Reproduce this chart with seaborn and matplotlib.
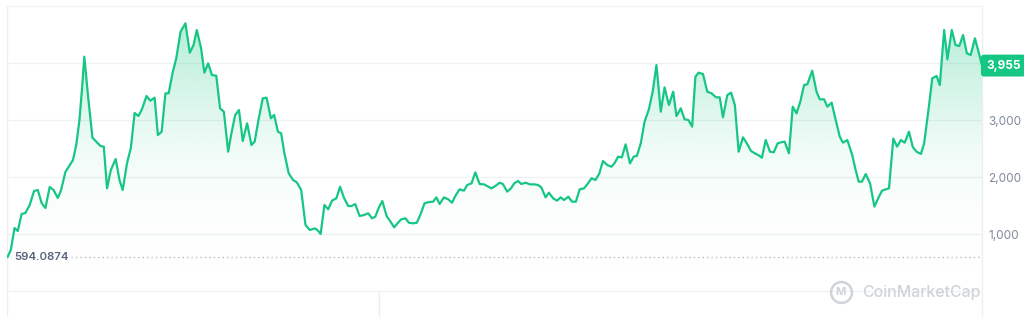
import numpy as np
import pandas as pd
import matplotlib
matplotlib.use("Agg")
import matplotlib.pyplot as plt
import seaborn as sns
from matplotlib.colors import LinearSegmentedColormap
from matplotlib.patches import PathPatch

# ---- data (days since start, price in USD) ----
days = [0, 6, 13, 19, 26, 33, 41, 49, 56, 63, 70, 78, 85, 93, 99, 107, 115, 121, 127, 133,
        138, 142, 149, 157, 164, 172, 178, 184, 191, 200, 207, 213, 221, 228, 235, 242, 248, 257, 264, 272,
        278, 285, 292, 298, 305, 312, 320, 329, 337, 344, 350, 358, 364, 371, 378, 386, 393, 400, 408, 414,
        421, 428, 435, 443, 451, 457, 464, 472, 479, 487, 493, 500, 506, 512, 520, 528, 535, 543, 551, 559,
        568, 573, 579, 586, 593, 600, 608, 615, 622, 630, 636, 643, 651, 659, 667, 674, 680, 686, 693, 701,
        707, 715, 721, 728, 736, 742, 750, 757, 764, 771, 779, 787, 793, 799, 807, 815, 822, 828, 836, 844,
        850, 858, 865, 873, 881, 895, 902, 910, 916, 924, 931, 937, 944, 950, 958, 966, 974, 981, 987, 995,
        1001, 1009, 1016, 1023, 1029, 1037, 1044, 1051, 1058, 1066, 1072, 1080, 1087, 1094, 1101, 1109, 1117, 1123, 1129, 1136,
        1143, 1151, 1158, 1164, 1171, 1178, 1186, 1193, 1200, 1208, 1215, 1223, 1231, 1237, 1245, 1252, 1259, 1266, 1272, 1278,
        1286, 1294, 1302, 1310, 1317, 1323, 1331, 1338, 1345, 1352, 1360, 1367, 1375, 1382, 1388, 1395, 1402, 1410, 1417, 1424,
        1430, 1437, 1445, 1452, 1459, 1466, 1473, 1479, 1488, 1496, 1502, 1510, 1516, 1524, 1530, 1539, 1545, 1553, 1562, 1568,
        1574, 1580, 1587, 1595, 1603, 1610, 1617, 1624, 1630, 1638, 1645, 1652, 1659, 1667, 1674, 1681, 1689, 1695, 1703, 1710,
        1718, 1724, 1732, 1738, 1746, 1753, 1760, 1767, 1774, 1781, 1789, 1798, 1802]

price = [594, 719, 1105, 1053, 1351, 1368, 1509, 1754, 1772, 1544, 1456, 1825, 1772, 1632, 1772, 2088, 2210, 2298, 2561, 3000,
         3584, 4111, 3409, 2690, 2620, 2544, 2532, 1801, 2123, 2316, 1947, 1772, 2246, 2509, 3123, 3070, 3175, 3421, 3339, 3392,
         2737, 2795, 3468, 3468, 3819, 4082, 4550, 4696, 4181, 4316, 4579, 4257, 3830, 3994, 3789, 3777, 3205, 3146, 2444, 2766,
         3088, 3175, 2632, 2942, 2561, 2620, 3000, 3380, 3392, 3030, 3088, 2795, 2766, 2415, 2064, 1947, 1906, 1772, 1158, 1070,
         1099, 1070, 1000, 1509, 1433, 1585, 1626, 1830, 1637, 1491, 1491, 1526, 1316, 1333, 1363, 1275, 1304, 1451, 1579, 1316,
         1234, 1117, 1187, 1257, 1275, 1199, 1187, 1199, 1351, 1538, 1561, 1567, 1643, 1526, 1643, 1608, 1549, 1667, 1784, 1760,
         1860, 1889, 2082, 1877, 1871, 1801, 1842, 1900, 1877, 1743, 1801, 1889, 1930, 1877, 1900, 1871, 1871, 1860, 1819, 1643,
         1725, 1626, 1585, 1643, 1596, 1655, 1567, 1567, 1784, 1801, 1871, 1977, 1947, 2053, 2281, 2210, 2181, 2251, 2357, 2345,
         2573, 2240, 2357, 2374, 2591, 2971, 3187, 3497, 3965, 3146, 3573, 3263, 3497, 3070, 3205, 3012, 3000, 2883, 3760, 3830,
         3807, 3497, 3468, 3398, 3398, 3047, 3439, 3480, 3263, 2444, 2696, 2591, 2456, 2415, 2386, 2339, 2649, 2444, 2433, 2591,
         2608, 2620, 2415, 3234, 3117, 3322, 3614, 3626, 3865, 3497, 3363, 3363, 3234, 3304, 3058, 2708, 2602, 2649, 2386, 2135,
         1918, 1918, 2053, 1889, 1480, 1626, 1760, 1784, 1801, 2673, 2532, 2649, 2602, 2795, 2526, 2444, 2404, 2591, 3175, 3731,
         3772, 3614, 4579, 4065, 4579, 4316, 4298, 4491, 4170, 4140, 4433, 4111, 3955]

grid_values = [0, 1000, 2000, 3000, 4000, 5000]
tick_labels = ["", "1,000", "2,000", "3,000", "", ""]
open_price = 594.0874
last_price_label = "3,955"

GREEN = "#16c784"
GRID = "#eff1f4"
TEXT = "#808a9d"
WM = "#cfd3da"

df = pd.DataFrame({"day": days, "price": price})

sns.set_theme(style="white")
plt.rcParams["font.family"] = ["Inter", "DejaVu Sans"]

fig = plt.figure(figsize=(10.24, 3.17), dpi=100)
ax = fig.add_axes([7 / 1024, 0.0, 975 / 1024, 1 - 6 / 317])

ymin, ymax = -456, 5000
xmin, xmax = -1, df["day"].max()

# gradient area under curve
poly = ax.fill_between(df["day"], df["price"], ymin, color="none", lw=0)
path = poly.get_paths()[0]
cmap = LinearSegmentedColormap.from_list(
    "g", [(1, 1, 1, 0.0), (22 / 255, 199 / 255, 132 / 255, 0.07), (22 / 255, 199 / 255, 132 / 255, 0.32)])
grad = np.linspace(0, 1, 256).reshape(-1, 1)
im = ax.imshow(grad, aspect="auto", cmap=cmap, origin="lower",
               extent=[xmin, xmax, 300, 4800], zorder=1, interpolation="bicubic")
clip = PathPatch(path, transform=ax.transData, facecolor="none", edgecolor="none")
ax.add_patch(clip)
im.set_clip_path(clip)

# gridlines
for v in grid_values:
    ax.axhline(v, color=GRID, lw=0.9, zorder=0)

# line
sns.lineplot(data=df, x="day", y="price", ax=ax, color=GREEN, lw=1.6, zorder=3)

# open-price dotted line + label
ax.axhline(open_price, xmin=0.066, xmax=1.0, color="#b8bec9", lw=1.0,
           linestyle=(0, (1, 2.2)), zorder=2)
ax.text(0.007, open_price, "594.0874", transform=ax.get_yaxis_transform(),
        ha="left", va="center", fontsize=8.2, color="#58667e", fontweight="semibold", zorder=4)

ax.set_xlim(xmin, xmax)
ax.set_ylim(ymin, ymax)

# right axis labels
ax.yaxis.tick_right()
ax.set_yticks(grid_values)
ax.set_yticklabels(tick_labels)
ax.tick_params(axis="y", length=0, pad=4.5, labelsize=8.5, labelcolor=TEXT)
ax.set_xticks([])
ax.set_xlabel("")
ax.set_ylabel("")

for s in ["top", "bottom"]:
    ax.spines[s].set_visible(False)
for s in ["left", "right"]:
    ax.spines[s].set_color("#eceef2")
    ax.spines[s].set_linewidth(0.9)

# faint divider below the chart
ax.plot([686, 686], [-30, ymin], color="#e9ebef", lw=0.9, zorder=0)

# current price badge
ax.text(1.004, price[-1], last_price_label, transform=ax.get_yaxis_transform(),
        ha="left", va="center", fontsize=8.5, color="white", fontweight="bold",
        bbox=dict(boxstyle="round,pad=0.42,rounding_size=0.25", fc=GREEN, ec="none"),
        zorder=5, clip_on=False)

# watermark
ax.text(0.877, 0.08, "CoinMarketCap", transform=ax.transAxes, ha="left", va="center",
        fontsize=11.5, color=WM, fontweight="medium", zorder=2)
ax.plot([0.855], [0.08], transform=ax.transAxes, marker="o", markersize=15,
        markerfacecolor="none", markeredgecolor=WM, markeredgewidth=1.8, zorder=2)
ax.text(0.855, 0.08, "M", transform=ax.transAxes, ha="center", va="center",
        fontsize=8, color=WM, fontweight="bold", zorder=2)

fig.savefig("out.png", dpi=100, facecolor="white")
